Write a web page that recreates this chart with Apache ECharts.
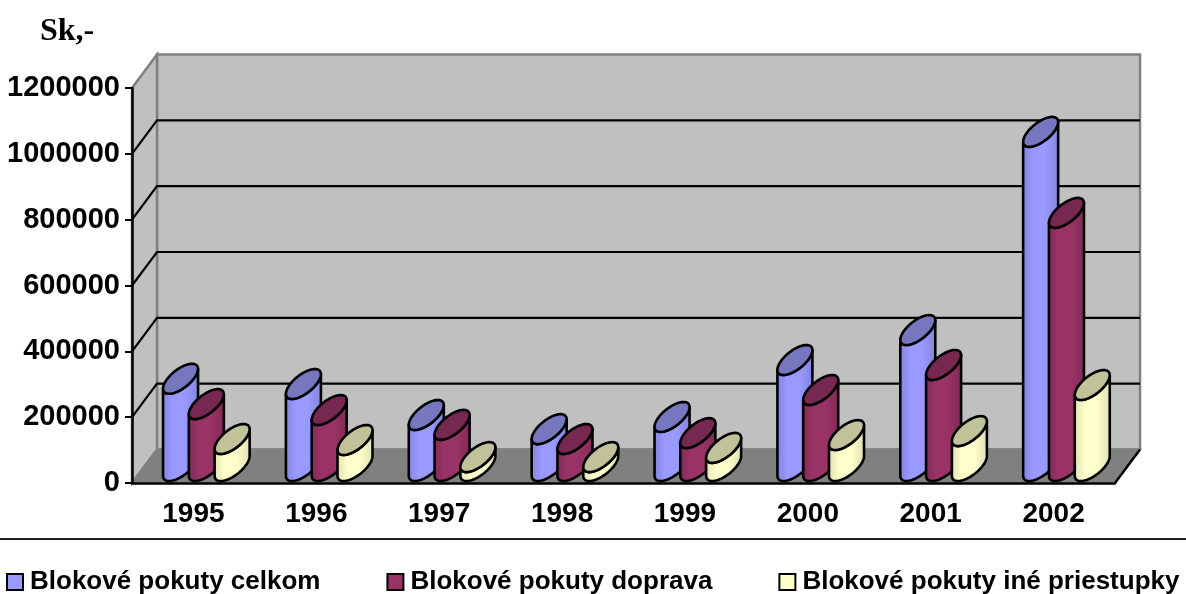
<!DOCTYPE html>
<html><head><meta charset="utf-8">
<style>html,body{margin:0;padding:0;background:#fff}#c{width:1186px;height:594px}</style>
<script src="https://cdn.jsdelivr.net/npm/echarts@6/dist/echarts.min.js"></script>
</head><body><div id="c"></div>
<script>
const categories = ['1995','1996','1997','1998','1999','2000','2001','2002'];
const celkom  = [265000,249000,155000,112000,149000,322000,413000,1015000];
const doprava = [188000,170000,125000,82000,100000,231000,307000,769000];
const ine     = [82000,79000,27000,27000,55000,94000,106000,246000];
const yTicks  = [0,200000,400000,600000,800000,1000000,1200000];
const names = ['Blokové pokuty celkom','Blokové pokuty doprava','Blokové pokuty iné priestupky'];
const bodyColors = ['#9999FF','#993366','#FFFFCC'];
const darkColors = ['#8282DC','#7F2A55','#DEDEB0'];
const capColors  = ['#7777BF','#772850','#C2C29A'];

const DX = 25, DY = 33.5;           // depth of the 3D box
const U = 13.2, VX = 11.5, VY = 15; // cap ellipse axes
const SPACING = 25.8, SHIFT = 12.9, BASE_OFF = 17;
const STROKE = {stroke:'#000', lineWidth:2.6, lineJoin:'round'};

function frameItem(params, api){
  const r = params.coordSys;
  const L = r.x, R = r.x + r.width, T = r.y, B = r.y + r.height;
  return {type:'group', children:[
    {type:'polygon', shape:{points:[[L+DX,T-DY],[R+DX,T-DY],[R+DX,B-DY],[L+DX,B-DY]]}, style:{fill:'#C0C0C0',stroke:'#808080',lineWidth:2.5}},
    {type:'polygon', shape:{points:[[L,T],[L+DX,T-DY],[L+DX,B-DY],[L,B]]}, style:{fill:'#C0C0C0',stroke:'#808080',lineWidth:2.5}},
    {type:'polygon', shape:{points:[[L,B],[L+DX,B-DY],[R+DX,B-DY],[R,B]]}, style:{fill:'#808080',stroke:'#808080',lineWidth:2}},
    {type:'line', shape:{x1:R,y1:B,x2:R+DX,y2:B-DY}, style:{stroke:'#000',lineWidth:2.4}}
  ]};
}
function gridItem(params, api){
  const v = api.value(0), r = params.coordSys;
  if (v === 0 || v === 1200000) return {type:'group',children:[]};
  const y = api.coord([0, v])[1];
  return {type:'polyline', shape:{points:[[r.x,y],[r.x+DX,y-DY],[r.x+r.width+DX,y-DY]]}, style:{stroke:'#000',fill:null,lineWidth:2.2}};
}
function ell(cx, cy, t){ return [cx + U*Math.cos(t) + VX*Math.sin(t), cy - VY*Math.sin(t)]; }
function arc(cx, cy, a, b, n){ const p=[]; for(let k=0;k<=n;k++){p.push(ell(cx,cy,a+(b-a)*k/n));} return p; }
function barItem(si){
  return function(params, api){
    const c = api.coord([api.value(0), api.value(1)]);
    const z = api.coord([api.value(0), 0]);
    const cx = c[0] + (si-1)*SPACING + SHIFT;
    const topY = c[1] - BASE_OFF, baseY = z[1] - BASE_OFF;
    const tR = Math.atan2(VX, U), tL = tR + Math.PI; // silhouette points
    const body = [].concat(
      arc(cx, topY, tL, tR + 2*Math.PI, 28),
      arc(cx, baseY, tR + 2*Math.PI, tL, 28)
    );
    const grad = {type:'linear',x:0,y:0,x2:1,y2:0,colorStops:[
      {offset:0,color:darkColors[si]},{offset:.3,color:bodyColors[si]},{offset:.62,color:bodyColors[si]},{offset:1,color:darkColors[si]}]};
    return {type:'group', children:[
      {type:'polygon', shape:{points:body}, style:Object.assign({fill:grad},STROKE)},
      {type:'polygon', shape:{points:arc(cx,topY,0,2*Math.PI,48)}, style:Object.assign({fill:capColors[si]},STROKE)}
    ]};
  };
}
const seriesData = [celkom, doprava, ine];
const series = [
  {type:'custom', name:'frame', renderItem:frameItem, data:[0], clip:false, silent:true, z:1, encode:{y:0}},
  {type:'custom', name:'grid', renderItem:gridItem, data:yTicks.map(v=>[v]), clip:false, silent:true, z:2, encode:{y:0}}
];
seriesData.forEach((vals,si)=>{
  series.push({type:'custom', name:names[si], renderItem:barItem(si), clip:false, z:3+si,
    data:vals.map((v,i)=>[i,v]), encode:{x:0,y:1}, itemStyle:{color:bodyColors[si]}});
});
const chart = echarts.init(document.getElementById('c'), null, {renderer:'canvas'});
chart.setOption({
  animation:false,
  backgroundColor:'#fff',
  title:{text:'Sk,-', left:40, top:16, padding:0, textStyle:{fontFamily:'Liberation Serif',fontWeight:'bold',fontSize:32,color:'#000'}},
  grid:{left:132, right:71, top:88, bottom:111, containLabel:false, outerBoundsMode:'none'},
  xAxis:{type:'category', data:categories, z:6,
    axisLine:{lineStyle:{color:'#000',width:2.5}},
    axisTick:{length:7,lineStyle:{color:'#000',width:2}},
    axisLabel:{fontFamily:'Liberation Sans',fontWeight:'bold',fontSize:28,color:'#000',margin:17},
    splitLine:{show:false}},
  yAxis:{type:'value', min:0, max:1200000, interval:200000, z:6,
    axisLine:{show:true,lineStyle:{color:'#000',width:2.5}},
    axisTick:{show:true,length:7,lineStyle:{color:'#000',width:2}},
    axisLabel:{fontFamily:'Liberation Sans',fontWeight:'bold',fontSize:29,color:'#000',margin:12,padding:[6,0,0,0],formatter:v=>String(v)},
    splitLine:{show:false}},
  legend:{left:6, top:569, padding:0, itemWidth:16, itemHeight:16, itemGap:66, icon:'rect',
    data:names.map((n,i)=>({name:n,icon:'rect',itemStyle:{color:bodyColors[i],borderColor:'#000',borderWidth:2}})),
    textStyle:{fontFamily:'Liberation Sans',fontWeight:'bold',fontSize:26,color:'#000',padding:[0,0,0,2]}},
  graphic:[{type:'line',shape:{x1:0,y1:539,x2:1186,y2:539},style:{stroke:'#222',lineWidth:2}}],
  series
});
</script></body></html>
